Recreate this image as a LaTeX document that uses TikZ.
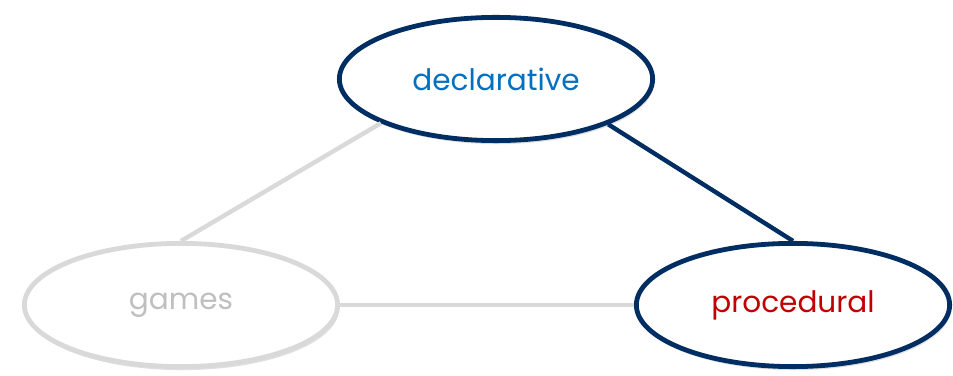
\documentclass[tikz,border=0pt]{standalone}
\usepackage{fontspec}
\setmainfont{Poppins}
\usetikzlibrary{shapes.geometric,shadows}
\definecolor{navy}{HTML}{002D62}
\definecolor{lightline}{HTML}{D9D9D9}
\definecolor{declblue}{HTML}{0070C0}
\definecolor{procred}{HTML}{C00000}
\definecolor{gamesgray}{HTML}{BFBFBF}
\tikzset{kind/.style={draw,ellipse,fill=white,line width=0.12cm,inner sep=0pt,
        minimum width=7.83cm,minimum height=3.08cm,font=\fontsize{21}{24}\selectfont,
        drop shadow={shadow xshift=1pt,shadow yshift=-2.5pt,opacity=0.25,fill=gray}
    }
}

\begin{document}
\begin{tikzpicture}[x=0.025cm,y=0.025cm]
    \useasboundingbox (0,0) rectangle (953,375);

    % Knowledge kinds
    \node[kind,draw=navy,text=declblue] (decl) at (496,296) {declarative};
    \node[kind,draw=lightline,text=gamesgray] (games) at (181,70) {games};
    \node[kind,draw=navy,text=procred] (proc) at (793,70) {procedural};

    % Links
    \draw[lightline,line width=0.11cm] (decl.201) -- (games.north);
    \draw[navy,line width=0.11cm] (decl.338) -- (proc.north);
    \draw[lightline,line width=0.11cm] (games.east) -- (proc.west);
\end{tikzpicture}
\end{document}
